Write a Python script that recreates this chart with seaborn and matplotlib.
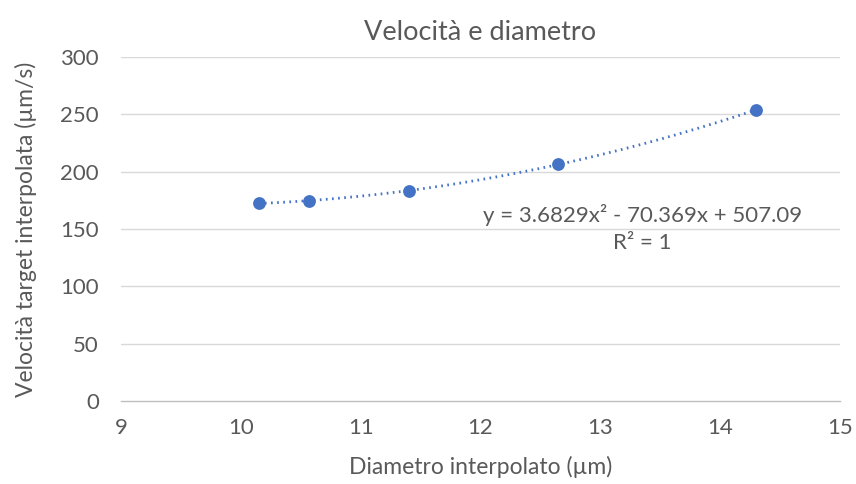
import numpy as np
import pandas as pd
import matplotlib
matplotlib.use("Agg")
import matplotlib.pyplot as plt
import seaborn as sns

diametro = [10.15, 10.57, 11.40, 12.65, 14.30]
velocita = [172.3, 174.8, 183.5, 206.3, 253.9]
coeff = [3.6829, -70.369, 507.09]
x_ticks = [9, 10, 11, 12, 13, 14, 15]
y_ticks = [0, 50, 100, 150, 200, 250, 300]

sns.set_theme(style="white")
plt.rcParams['font.family'] = ['Lato', 'DejaVu Sans']

df = pd.DataFrame({"Diametro": diametro, "Velocita": velocita})
xs = np.linspace(min(diametro), max(diametro), 200)
trend = pd.DataFrame({"x": xs, "y": np.polyval(coeff, xs)})

fig = plt.figure(figsize=(8.56, 4.84), dpi=100)
ax = fig.add_axes([0.1414, 0.1715, 0.8399, 0.7107])

grey = "#595959"
for yt in y_ticks[1:]:
    ax.axhline(yt, color="#D9D9D9", lw=1.0, zorder=0)

sns.lineplot(data=trend, x="x", y="y", ax=ax, color="#4472C4", lw=2.0,
             linestyle=(0, (0.6, 1.6)), zorder=2)
sns.scatterplot(data=df, x="Diametro", y="Velocita", ax=ax, color="#4472C4",
                s=85, edgecolor="#4472C4", linewidth=0, zorder=3)

ax.set_xlim(9, 15)
ax.set_ylim(0, 300)
ax.set_xticks(x_ticks)
ax.set_yticks(y_ticks)
ax.tick_params(axis='both', labelsize=16, colors=grey, length=0)
ax.tick_params(axis='x', pad=12)
ax.tick_params(axis='y', pad=16)
for s in ["top", "right", "left"]:
    ax.spines[s].set_visible(False)
ax.spines["bottom"].set_color("#BFBFBF")
ax.spines["bottom"].set_linewidth(1.0)

ax.set_xlabel("Diametro interpolato (µm)", fontsize=16.5, color=grey, labelpad=13)
ax.set_ylabel("Velocità target interpolata (µm/s)", fontsize=16.5, color=grey, labelpad=17)
ax.set_title("Velocità e diametro", fontsize=19.5, color=grey, pad=12)

ax.text(13.35, 162, "y = 3.6829x² - 70.369x + 507.09", fontsize=16, color=grey,
        ha="center", va="center")
ax.text(13.35, 138, "R² = 1", fontsize=16, color=grey, ha="center", va="center")

fig.savefig("out.png", dpi=100)
